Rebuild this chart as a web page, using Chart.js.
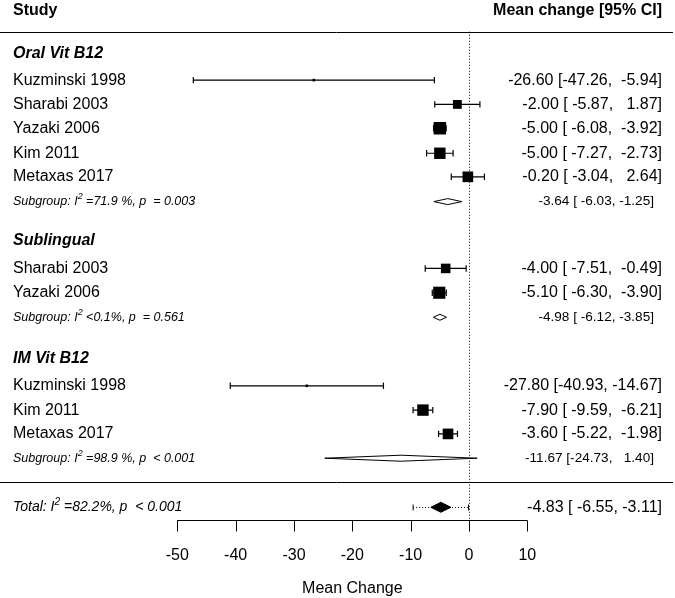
<!DOCTYPE html>
<html>
<head>
<meta charset="utf-8">
<script src="https://cdn.jsdelivr.net/npm/chart.js@4"></script>
<style>
  html, body { margin: 0; padding: 0; background: #fff; }
  #wrap { width: 675px; height: 598px; position: relative; }
</style>
</head>
<body>
<div id="wrap"><canvas id="forest"></canvas></div>
<script>
// Dados dos estudos (linha 0 = total, uma unidade por linha de texto)
const studyLabels = ['Kuzminski 1998', 'Sharabi 2003', 'Yazaki 2006', 'Kim 2011', 'Metaxas 2017',
                     'Sharabi 2003', 'Yazaki 2006',
                     'Kuzminski 1998', 'Kim 2011', 'Metaxas 2017'];
const studyRows = [17.58, 16.58, 15.6, 14.57, 13.6, 9.83, 8.83, 5.0, 4.0, 3.02];
const studyMean = [-26.60, -2.00, -5.00, -5.00, -0.20, -4.00, -5.10, -27.80, -7.90, -3.60];
const studyLower = [-47.26, -5.87, -6.08, -7.27, -3.04, -7.51, -6.30, -40.93, -9.59, -5.22];
const studyUpper = [-5.94, 1.87, -3.92, -2.73, 2.64, -0.49, -3.90, -14.67, -6.21, -1.98];
const studyWeights = [3, 20, 30, 27, 25, 22, 29, 3, 27, 25];

// Subgrupos
const groupNames = ['Oral Vit B12', 'Sublingual', 'IM Vit B12'];
const groupRows = [18.68, 10.96, 6.13];
const subgroupRows = [12.58, 7.82, 2.02];
const subgroupMean = [-3.64, -4.98, -11.67];
const subgroupLower = [-6.03, -6.12, -24.73];
const subgroupUpper = [-1.25, -3.85, 1.40];
const subgroupI2 = ['=71.9 %', '<0.1%', '=98.9 %'];
const subgroupP = ['  = 0.003', '  = 0.561', '  < 0.001'];

// Total
const totalMean = [-4.83];
const totalLower = [-6.55];
const totalUpper = [-3.11];
const predInterval = [-9.58, -0.08];
const totalI2 = '=82.2%';
const totalP = '  < 0.001';

// Eixo
const xTicks = [-50, -40, -30, -20, -10, 0, 10];
const xTitle = 'Mean Change';

const FONT = '"Liberation Sans", Arial, sans-serif';
const HEADER_ROW = 20.45, TOP_LINE_ROW = 19.57, SEP_ROW = 1.03, AXIS_ROW = -0.52;

function pad(v, w) {
    let s = v.toFixed(2);
    while (s.length < w) s = ' ' + s;
    return s;
}
function ciText(est, lo, hi, summary) {
    const wHi = summary ? (hi < 0 ? 5 : 6) : 6;
    return `${est.toFixed(2)} [${pad(lo, 6)}, ${pad(hi, wHi)}]`;
}
function boxSide(w) { return 1.5 + 11 * w / 30; }

// Linhas dos intervalos de confiança (com quebras entre estudos)
const ciData = [];
studyRows.forEach((r, i) => {
    ciData.push({ x: studyLower[i], y: r });
    ciData.push({ x: studyUpper[i], y: r });
    ciData.push({ x: studyUpper[i], y: null });
});

const squareData = studyRows.map((r, i) => ({ x: studyMean[i], y: r }));

function drawSup(ctx, x, y, pre, post, size) {
    ctx.fillStyle = '#000';
    ctx.font = `italic ${size}px ${FONT}`;
    ctx.fillText(pre, x, y);
    x += ctx.measureText(pre).width;
    ctx.font = `italic ${Math.round(size * 0.7)}px ${FONT}`;
    ctx.fillText('2', x, y - size * 0.38);
    x += ctx.measureText('2').width;
    ctx.font = `italic ${size}px ${FONT}`;
    ctx.fillText(post, x, y);
}

function diamond(ctx, xs, ys, est, lo, hi, row, half, fill) {
    const cx = xs.getPixelForValue(est), cy = ys.getPixelForValue(row);
    ctx.save();
    ctx.beginPath();
    ctx.moveTo(xs.getPixelForValue(lo), cy);
    ctx.lineTo(cx, cy - half);
    ctx.lineTo(xs.getPixelForValue(hi), cy);
    ctx.lineTo(cx, cy + half);
    ctx.closePath();
    ctx.fillStyle = fill;
    ctx.fill();
    ctx.lineWidth = 1;
    ctx.strokeStyle = '#000';
    ctx.stroke();
    ctx.restore();
}

const forestPlugin = {
    id: 'forestPlugin',
    beforeDatasetsDraw(chart) {
        const { ctx, scales: { x, y } } = chart;
        ctx.save();
        // Linha de referência pontilhada no zero
        const x0 = Math.round(x.getPixelForValue(0)) + 0.5;
        ctx.strokeStyle = '#000';
        ctx.lineWidth = 1;
        ctx.setLineDash([1, 2]);
        ctx.beginPath();
        ctx.moveTo(x0, y.getPixelForValue(TOP_LINE_ROW));
        ctx.lineTo(x0, y.getPixelForValue(AXIS_ROW));
        ctx.stroke();
        ctx.setLineDash([]);

        // Linhas horizontais
        [TOP_LINE_ROW, SEP_ROW].forEach(r => {
            const py = Math.round(y.getPixelForValue(r)) + 0.5;
            ctx.beginPath();
            ctx.moveTo(0, py);
            ctx.lineTo(chart.width - 2, py);
            ctx.stroke();
        });
        ctx.restore();
    },
    afterDatasetsDraw(chart) {
        const { ctx, scales: { x, y } } = chart;
        ctx.save();
        ctx.fillStyle = '#000';
        ctx.textBaseline = 'middle';
        const leftX = 13, rightX = 662;

        // Cabeçalho
        ctx.font = `bold 16px ${FONT}`;
        ctx.textAlign = 'left';
        ctx.fillText('Study', leftX, y.getPixelForValue(HEADER_ROW));
        ctx.textAlign = 'right';
        ctx.fillText('Mean change [95% CI]', rightX, y.getPixelForValue(HEADER_ROW));

        // Grupos
        ctx.textAlign = 'left';
        ctx.font = `italic bold 16px ${FONT}`;
        groupNames.forEach((g, i) => ctx.fillText(g, leftX, y.getPixelForValue(groupRows[i])));

        // Estudos
        studyLabels.forEach((s, i) => {
            const py = y.getPixelForValue(studyRows[i]);
            ctx.font = `16px ${FONT}`;
            ctx.textAlign = 'left';
            ctx.fillText(s, leftX, py);
            ctx.textAlign = 'right';
            ctx.fillText(ciText(studyMean[i], studyLower[i], studyUpper[i], false), rightX, py);
        });

        // Subgrupos
        subgroupRows.forEach((r, i) => {
            const py = y.getPixelForValue(r);
            ctx.textAlign = 'left';
            drawSup(ctx, leftX, py, 'Subgroup: I', ` ${subgroupI2[i]}, p${subgroupP[i]}`, 12.5);
            ctx.font = `13.6px ${FONT}`;
            ctx.textAlign = 'right';
            ctx.fillText(ciText(subgroupMean[i], subgroupLower[i], subgroupUpper[i], true), 654, py);
            diamond(ctx, x, y, subgroupMean[i], subgroupLower[i], subgroupUpper[i], r, 3, '#fff');
        });

        // Total
        const ty = y.getPixelForValue(0);
        ctx.textAlign = 'left';
        drawSup(ctx, leftX, ty, 'Total: I', ` ${totalI2}, p${totalP}`, 14);
        ctx.font = `16px ${FONT}`;
        ctx.textAlign = 'right';
        ctx.fillText(ciText(totalMean[0], totalLower[0], totalUpper[0], true), rightX, ty);

        // Intervalo de predição (pontilhado)
        const pl = x.getPixelForValue(predInterval[0]), pr = x.getPixelForValue(predInterval[1]);
        const tyl = Math.round(ty) + 0.5;
        ctx.strokeStyle = '#000';
        ctx.lineWidth = 1;
        ctx.setLineDash([1, 2]);
        ctx.beginPath();
        ctx.moveTo(pl, tyl); ctx.lineTo(pr, tyl);
        ctx.stroke();
        ctx.setLineDash([]);
        ctx.beginPath();
        ctx.moveTo(pl, tyl - 3); ctx.lineTo(pl, tyl + 3);
        ctx.moveTo(pr, tyl - 3); ctx.lineTo(pr, tyl + 3);
        ctx.stroke();
        diamond(ctx, x, y, totalMean[0], totalLower[0], totalUpper[0], 0, 5, '#000');

        // Eixo X
        const ay = Math.round(y.getPixelForValue(AXIS_ROW)) + 0.5;
        ctx.beginPath();
        ctx.moveTo(x.getPixelForValue(xTicks[0]), ay);
        ctx.lineTo(x.getPixelForValue(xTicks[xTicks.length - 1]), ay);
        xTicks.forEach(t => {
            const px = Math.round(x.getPixelForValue(t)) + 0.5;
            ctx.moveTo(px, ay);
            ctx.lineTo(px, ay + 11);
        });
        ctx.stroke();
        ctx.fillStyle = '#000';
        ctx.font = `16px ${FONT}`;
        ctx.textAlign = 'center';
        xTicks.forEach(t => ctx.fillText(String(t), x.getPixelForValue(t), ay + 35));
        const mid = (x.getPixelForValue(xTicks[0]) + x.getPixelForValue(xTicks[xTicks.length - 1])) / 2;
        ctx.fillText(xTitle, mid, ay + 68);
        ctx.restore();
    }
};

const ctx = document.getElementById('forest').getContext('2d');
const forestChart = new Chart(ctx, {
    type: 'scatter',
    data: {
        datasets: [{
            label: 'Estimate',
            data: squareData,
            pointStyle: 'rect',
            pointRadius: c => boxSide(studyWeights[c.dataIndex]) / Math.SQRT2,
            pointHoverRadius: c => boxSide(studyWeights[c.dataIndex]) / Math.SQRT2,
            backgroundColor: '#000',
            borderColor: '#000',
            borderWidth: 0,
            order: 0
        }, {
            label: 'CI',
            type: 'line',
            data: ciData,
            showLine: true,
            spanGaps: false,
            borderColor: '#000',
            borderWidth: 1.2,
            pointStyle: 'line',
            rotation: 90,
            pointRadius: 3.2,
            pointBorderColor: '#000',
            pointBorderWidth: 1.2,
            order: 1
        }]
    },
    options: {
        responsive: true,
        maintainAspectRatio: false,
        animation: false,
        events: [],
        layout: { padding: 0, autoPadding: false },
        plugins: { legend: { display: false }, tooltip: { enabled: false } },
        scales: {
            x: { type: 'linear', display: false, min: -80.4, max: 35.31 },
            y: { type: 'linear', display: false, min: -3.733, max: 20.877 }
        }
    },
    plugins: [forestPlugin]
});
</script>
</body>
</html>
